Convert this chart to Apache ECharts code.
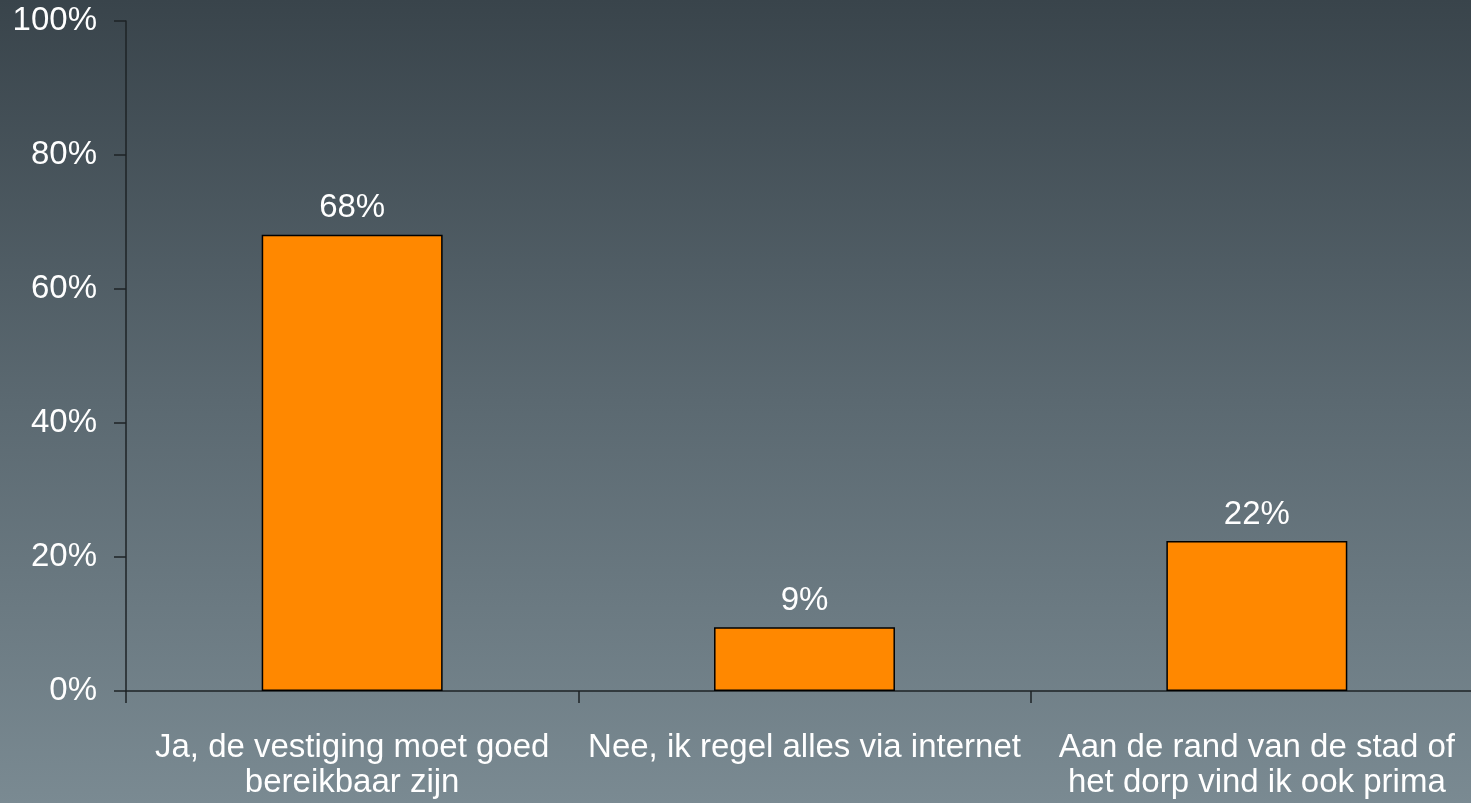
<!DOCTYPE html>
<html>
<head>
<meta charset="utf-8">
<script src="https://cdn.jsdelivr.net/npm/echarts@6/dist/echarts.min.js"></script>
<style>
html,body{margin:0;padding:0;width:1471px;height:803px;overflow:hidden;}
#chart{width:1471px;height:803px;background:linear-gradient(to bottom,#39444b 0%,#5b6971 50%,#7a8a92 100%);}
</style>
</head>
<body>
<div id="chart"></div>
<script>
const categories = ['Ja, de vestiging moet goed\nbereikbaar zijn', 'Nee, ik regel alles via internet', 'Aan de rand van de stad of\nhet dorp vind ik ook prima'];
const values = [68.1, 9.5, 22.4];
const valueLabels = ['68%', '9%', '22%'];
const yTicks = [0, 20, 40, 60, 80, 100];

const chart = echarts.init(document.getElementById('chart'), null, {renderer: 'canvas'});
const font = 'Liberation Sans, Arial, sans-serif';
chart.setOption({
  animation: false,
  grid: {left: 126, width: 1357, top: 21, height: 670, containLabel: false, outerBoundsMode: 'none'},
  xAxis: {
    type: 'category',
    data: categories,
    axisLine: {lineStyle: {color: '#1e2326', width: 1.5}},
    axisTick: {show: true, length: 12, alignWithLabel: false, lineStyle: {color: '#1e2326', width: 1.5}},
    axisLabel: {interval: 0, color: '#ffffff', fontFamily: font, fontSize: 33, lineHeight: 35, margin: 39}
  },
  yAxis: {
    type: 'value',
    min: 0, max: 100, interval: 20,
    splitLine: {show: false},
    axisLine: {show: true, lineStyle: {color: '#1e2326', width: 1.5}},
    axisTick: {show: true, length: 12, lineStyle: {color: '#1e2326', width: 1.5}},
    axisLabel: {color: '#ffffff', fontFamily: font, fontSize: 33, margin: 29,
      formatter: v => yTicks.includes(v) ? v + '%' : ''}
  },
  series: [{
    type: 'bar',
    data: values,
    barWidth: '40%',
    itemStyle: {color: '#ff8800', borderColor: '#000000', borderWidth: 1.5},
    label: {show: true, position: 'top', distance: 10, color: '#ffffff', fontFamily: font, fontSize: 33,
      formatter: p => valueLabels[p.dataIndex]}
  }]
});
</script>
</body>
</html>
